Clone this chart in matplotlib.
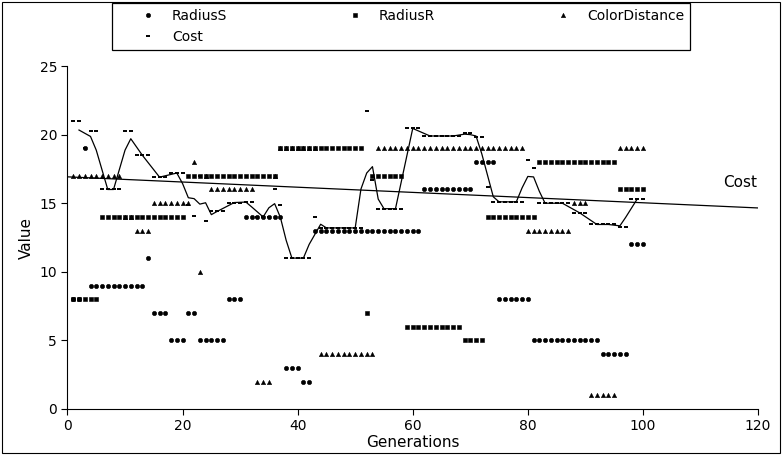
import numpy as np
import matplotlib.pyplot as plt
from matplotlib.patches import Rectangle

# generations 1..100
gens = np.arange(1, 101)

radius_s = [8, 8, 19, 9, 9, 9, 9, 9, 9, 9,
            9, 9, 9, 11, 7, 7, 7, 5, 5, 5,
            7, 7, 5, 5, 5, 5, 5, 8, 8, 8,
            14, 14, 14, 14, 14, 14, 14, 3, 3, 3,
            2, 2, 13, 13, 13, 13, 13, 13, 13, 13,
            13, 13, 13, 13, 13, 13, 13, 13, 13, 13,
            13, 16, 16, 16, 16, 16, 16, 16, 16, 16,
            18, 18, 18, 18, 8, 8, 8, 8, 8, 8,
            5, 5, 5, 5, 5, 5, 5, 5, 5, 5,
            5, 5, 4, 4, 4, 4, 4, 12, 12, 12]

radius_r = [8, 8, 8, 8, 8, 14, 14, 14, 14, 14,
            14, 14, 14, 14, 14, 14, 14, 14, 14, 14,
            17, 17, 17, 17, 17, 17, 17, 17, 17, 17,
            17, 17, 17, 17, 17, 17, 19, 19, 19, 19,
            19, 19, 19, 19, 19, 19, 19, 19, 19, 19,
            19, 7, 17, 17, 17, 17, 17, 17, 6, 6,
            6, 6, 6, 6, 6, 6, 6, 6, 5, 5,
            5, 5, 14, 14, 14, 14, 14, 14, 14, 14,
            14, 18, 18, 18, 18, 18, 18, 18, 18, 18,
            18, 18, 18, 18, 18, 16, 16, 16, 16, 16]

color_dist = [17, 17, 17, 17, 17, 17, 17, 17, 17, 14,
              14, 13, 13, 13, 15, 15, 15, 15, 15, 15,
              15, 18, 10, 17, 16, 16, 16, 16, 16, 16,
              16, 16, 2, 2, 2, 17, 19, 19, 19, 19,
              19, 19, 19, 4, 4, 4, 4, 4, 4, 4,
              4, 4, 4, 19, 19, 19, 19, 19, 19, 19,
              19, 19, 19, 19, 19, 19, 19, 19, 19, 19,
              19, 19, 19, 19, 19, 19, 19, 19, 19, 13,
              13, 13, 13, 13, 13, 13, 13, 15, 15, 15,
              1, 1, 1, 1, 1, 19, 19, 19, 19, 19]

cost = [21, 21, 19, 20.3, 20.3, 16, 16, 16, 16, 20.3,
        20.3, 18.5, 18.5, 18.5, 16.9, 16.9, 16.9, 17.2, 17.2, 17.2,
        14.9, 14.1, 17, 13.7, 14.4, 14.4, 14.4, 15.05, 15.05, 15.05,
        15.1, 15.1, 14, 14, 14, 16, 14.9, 11, 11, 11,
        11, 11, 14, 13.2, 13.2, 13.2, 13.2, 13.2, 13.2, 13.2,
        13.2, 21.7, 16.7, 14.6, 14.6, 14.6, 14.6, 14.6, 20.45, 20.45,
        20.45, 19.9, 19.9, 19.9, 19.9, 19.9, 19.9, 19.9, 20.1, 20.1,
        19.8, 19.8, 16.2, 15.1, 15.1, 15.1, 15.1, 15.1, 15.1, 18.15,
        17.6, 15.0, 15.0, 15.0, 15.0, 15.0, 15.0, 14.3, 14.3, 14.3,
        13.45, 13.45, 13.45, 13.45, 13.45, 13.3, 13.3, 15.3, 15.3, 15.3]

cost = np.array(cost)

# trendlines on cost: 3 point moving average + linear fit
ma = np.convolve(cost, np.ones(3) / 3, mode='valid')
coef = np.polyfit(gens, cost, 1)
x_fit = np.array([0, 120])
y_fit = np.polyval(coef, x_fit)

plt.rcParams.update({'font.size': 10, 'font.family': 'DejaVu Sans'})

fig = plt.figure(figsize=(7.82, 4.55), dpi=100)
ax = fig.add_axes([0.0863, 0.1011, 0.883, 0.7538])

ms = 3.1
ax.plot(gens, radius_s, 'o', color='black', ms=ms, mew=0.4, label='RadiusS')
ax.plot(gens, radius_r, 's', color='black', ms=ms, mew=0.4, label='RadiusR')
ax.plot(gens, color_dist, '^', color='black', ms=ms, mew=0.4, label='ColorDistance')
ax.plot(gens, cost, '_', color='black', ms=2.7, mew=1.4, label='Cost')

ax.plot(gens[1:-1], ma, '-', color='black', lw=0.9)
ax.plot(x_fit, y_fit, '-', color='black', lw=0.9)
ax.text(114, 16.5, 'Cost', fontsize=11, ha='left', va='center')

ax.set_xlim(0, 120)
ax.set_ylim(0, 25)
ax.set_xticks([0, 20, 40, 60, 80, 100, 120])
ax.set_yticks([0, 5, 10, 15, 20, 25])
ax.spines['top'].set_visible(False)
ax.spines['right'].set_visible(False)
ax.tick_params(direction='out', length=4, width=0.8, labelsize=10)
ax.set_xlabel('Generations', fontsize=11, labelpad=1)
ax.set_ylabel('Value', fontsize=11, labelpad=4)

h, l = ax.get_legend_handles_labels()
order = [0, 3, 1, 2]
leg = fig.legend([h[i] for i in order], [l[i] for i in order], ncol=3,
                 loc='upper left', bbox_to_anchor=(112 / 782, 1 - 3 / 455),
                 bbox_transform=fig.transFigure, fontsize=10,
                 frameon=True, fancybox=False, edgecolor='black',
                 framealpha=1, borderpad=0.4, handlelength=4.38,
                 handletextpad=-0.46, columnspacing=7.0, labelspacing=0.55,
                 borderaxespad=0)
leg.get_frame().set_linewidth(0.9)

# border round the chart area
fig.patches.append(Rectangle((0.003, 0.004), 0.994, 0.992, transform=fig.transFigure,
                             fill=False, ec='black', lw=0.8))

fig.savefig('out.png', dpi=100)
